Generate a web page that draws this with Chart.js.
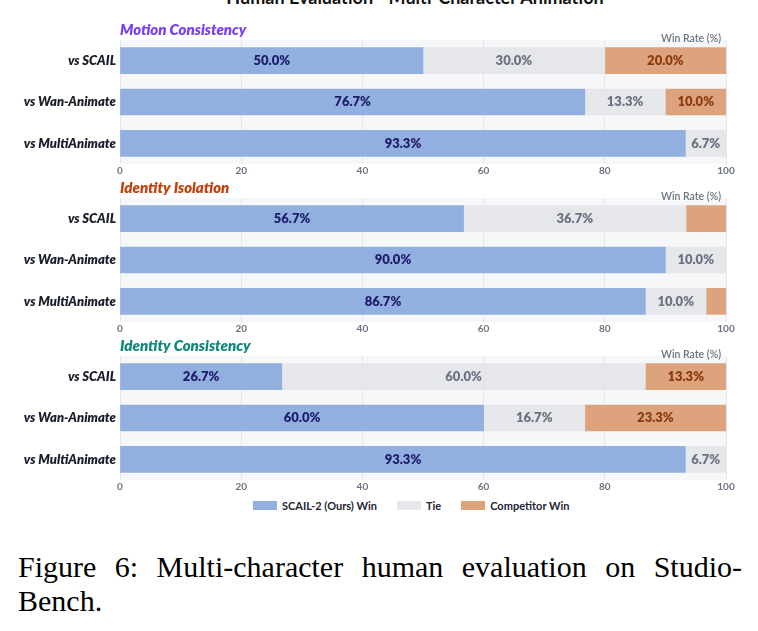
<!DOCTYPE html>
<html>
<head>
<meta charset="utf-8">
<script src="https://cdn.jsdelivr.net/npm/chart.js@4.4.0/dist/chart.umd.min.js"></script>
<style>
  body { margin: 0; background: #fff; width: 758px; height: 631px; overflow: hidden; position: relative; font-family: Lato, sans-serif; }
  .panel { position: absolute; left: 0; width: 758px; height: 157px; }
  #topTitle { position: absolute; left: 0; width: 830px; top: -12px; text-align: center; font: 700 18px/18px Lato, sans-serif; color: #111; white-space: nowrap; }
  #legend { position: absolute; left: 253px; top: 499px; display: flex; align-items: center; font: 700 11px Lato, sans-serif; color: #1f2433; }
  #legend .box { width: 24px; height: 9px; margin-right: 5px; flex: none; }
  #legend .item { display: flex; align-items: center; margin-right: 20px; }
  #caption { position: absolute; left: 18px; width: 724px; top: 550px; font: 30px/34px "Liberation Serif", "Times New Roman", serif; text-align: justify; color: #000; }
</style>
</head>
<body>
<div id="topTitle">Human Evaluation - Multi-Character Animation</div>
<canvas id="c0" class="panel" width="758" height="157" style="top:21px"></canvas>
<canvas id="c1" class="panel" width="758" height="157" style="top:179px"></canvas>
<canvas id="c2" class="panel" width="758" height="157" style="top:337px"></canvas>
<div id="legend"></div>
<div id="caption">Figure 6: Multi-character human evaluation on Studio-Bench.</div>
<script>
var categories = ['vs SCAIL', 'vs Wan-Animate', 'vs MultiAnimate'];
var panelTitles = ['Motion Consistency', 'Identity Isolation', 'Identity Consistency'];
var titleColors = ['#7b3ff2', '#c2410c', '#11897a'];
var seriesNames = ['SCAIL-2 (Ours) Win', 'Tie', 'Competitor Win'];
var seriesColors = ['#92b0df', '#e5e7eb', '#dda37c'];
var labelColors = ['#1e1b6b', '#6b7280', '#8b3a0f'];
var labelMin = [5, 5, 8];

var motionWin = [50.0, 76.7, 93.3];
var motionTie = [30.0, 13.3, 6.7];
var motionLose = [20.0, 10.0, 0];
var isolationWin = [56.7, 90.0, 86.7];
var isolationTie = [36.7, 10.0, 10.0];
var isolationLose = [6.7, 0, 3.3];
var consistWin = [26.7, 60.0, 93.3];
var consistTie = [60.0, 16.7, 6.7];
var consistLose = [13.3, 23.3, 0];
var xTicks = [0, 20, 40, 60, 80, 100];

var panels = [
  [motionWin, motionTie, motionLose],
  [isolationWin, isolationTie, isolationLose],
  [consistWin, consistTie, consistLose]
];

// light plot background behind the grid
var plotBg = {
  id: 'plotBg',
  beforeDraw: function (chart) {
    var a = chart.chartArea, c = chart.ctx;
    c.save();
    c.fillStyle = '#f6f7f9';
    c.fillRect(a.left, a.top, a.right - a.left, a.bottom - a.top);
    c.restore();
  }
};

// "Win Rate (%)" over the top right corner
var winRateNote = {
  id: 'winRateNote',
  afterDraw: function (chart) {
    var a = chart.chartArea, c = chart.ctx;
    c.save();
    c.font = '600 10.5px Lato';
    c.fillStyle = '#6b7280';
    c.textAlign = 'right';
    c.textBaseline = 'middle';
    c.fillText('Win Rate (%)', a.right - 5, a.top - 1);
    c.restore();
  }
};

// percentage text in the middle of each segment
var barLabels = {
  id: 'barLabels',
  afterDatasetsDraw: function (chart) {
    var c = chart.ctx;
    c.save();
    c.font = '800 13px Lato';
    c.textAlign = 'center';
    c.textBaseline = 'middle';
    chart.data.datasets.forEach(function (ds, di) {
      var meta = chart.getDatasetMeta(di);
      meta.data.forEach(function (el, i) {
        var v = ds.data[i];
        if (v < labelMin[di]) return;
        c.fillStyle = labelColors[di];
        c.fillText(v.toFixed(1) + '%', (el.x + el.base) / 2, el.y);
      });
    });
    c.restore();
  }
};

panels.forEach(function (vals, p) {
  new Chart(document.getElementById('c' + p), {
    type: 'bar',
    data: {
      labels: categories,
      datasets: vals.map(function (d, s) {
        return {
          label: seriesNames[s],
          data: d,
          backgroundColor: seriesColors[s],
          borderWidth: 0,
          barThickness: 26
        };
      })
    },
    plugins: [plotBg, winRateNote, barLabels],
    options: {
      indexAxis: 'y',
      responsive: false,
      animation: false,
      layout: { padding: { top: 0, right: 32, bottom: 0, left: 0 } },
      plugins: {
        legend: { display: false },
        tooltip: { enabled: false },
        title: {
          display: true,
          text: panelTitles[p],
          align: 'start',
          fullSize: false,
          color: titleColors[p],
          font: { family: 'Lato', size: 15, weight: 800, style: 'italic' },
          padding: { top: 0, bottom: 1 }
        }
      },
      scales: {
        x: {
          stacked: true,
          min: 0,
          max: 100,
          afterBuildTicks: function (s) { s.ticks = xTicks.map(function (v) { return { value: v }; }); },
          grid: { color: '#e4e6eb', drawTicks: false },
          border: { display: false },
          ticks: { color: '#6b7280', padding: 1, font: { family: 'Lato', size: 10, weight: 'bold' } }
        },
        y: {
          stacked: true,
          afterFit: function (s) { s.width = 120; },
          grid: { display: false, drawTicks: false },
          border: { display: false },
          ticks: { color: '#1a1d2b', padding: 4, font: { family: 'Lato', size: 13, weight: 800, style: 'italic' } }
        }
      }
    }
  });
});

var legend = document.getElementById('legend');
seriesNames.forEach(function (n, i) {
  var item = document.createElement('div');
  item.className = 'item';
  item.innerHTML = '<div class="box" style="background:' + seriesColors[i] + '"></div><span>' + n + '</span>';
  legend.appendChild(item);
});
</script>
</body>
</html>
